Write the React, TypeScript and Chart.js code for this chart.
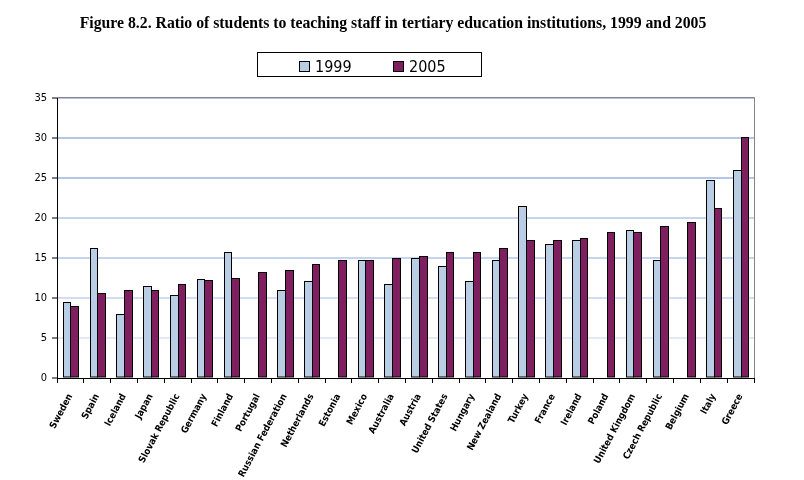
import React, { useEffect, useRef } from 'react';
import { Chart, registerables } from 'chart.js';

Chart.register(...registerables);

const TITLE =
  'Figure 8.2. Ratio of students to teaching staff in tertiary education institutions, 1999 and 2005';

const countries = [
  'Sweden', 'Spain', 'Iceland', 'Japan', 'Slovak Republic', 'Germany', 'Finland', 'Portugal',
  'Russian Federation', 'Netherlands', 'Estonia', 'Mexico', 'Australia', 'Austria', 'United States',
  'Hungary', 'New Zealand', 'Turkey', 'France', 'Ireland', 'Poland', 'United Kingdom',
  'Czech Republic', 'Belgium', 'Italy', 'Greece',
];

const values1999 = [
  9.5, 16.3, 8.0, 11.5, 10.4, 12.4, 15.7, null, 11.0, 12.1, null, 14.7, 11.7, 15.0, 14.0,
  12.1, 14.7, 21.5, 16.8, 17.2, null, 18.5, 14.8, null, 24.7, 26.0,
];

const values2005 = [
  9.0, 10.6, 11.0, 11.0, 11.7, 12.2, 12.5, 13.2, 13.5, 14.3, 14.8, 14.8, 15.0, 15.2, 15.7,
  15.8, 16.3, 17.2, 17.3, 17.5, 18.2, 18.2, 19.0, 19.5, 21.3, 30.1,
];

const seriesLabels = ['1999', '2005'];
const seriesColors = ['#b9cde5', '#7f1f5f'];

const Y_MIN = 0;
const Y_MAX = 35;
const Y_STEP = 5;

const SANS = '"DejaVu Sans Condensed", "DejaVu Sans", sans-serif';

const gridColorFor = (v: number) => {
  if (v === 0) return 'rgba(0,0,0,0)';
  if (v >= 25) return '#b3c6e7';
  if (v >= 15) return '#c6d5ee';
  if (v >= 10) return '#d2ddf1';
  return '#e1e9f6';
};

const decor = {
  id: 'decor',
  beforeDraw(chart: any) {
    const { ctx, width, height } = chart;
    ctx.save();
    ctx.fillStyle = '#ffffff';
    ctx.fillRect(0, 0, width, height);
    ctx.restore();
  },
  // draw bars ourselves (pixel-snapped) from the library's computed elements
  beforeDatasetDraw() {
    return false;
  },
  afterDatasetsDraw(chart: any) {
    const { ctx } = chart;
    ctx.save();
    ctx.lineWidth = 1;
    ctx.strokeStyle = '#000';
    chart.data.datasets.forEach((d: any, i: number) => {
      const meta = chart.getDatasetMeta(i);
      meta.data.forEach((bar: any, j: number) => {
        if (d.data[j] == null) return;
        const { x, y, base, width } = bar.getProps(['x', 'y', 'base', 'width'], true);
        if (y == null || isNaN(y)) return;
        const l = Math.round(x - width / 2);
        const r = Math.round(x + width / 2);
        const t = Math.round(y);
        const b = Math.round(base);
        ctx.fillStyle = d.backgroundColor;
        ctx.fillRect(l, t, r - l + 1, b - t);
        ctx.strokeRect(l + 0.5, t + 0.5, r - l, b - t - 0.5);
      });
    });
    ctx.restore();
  },
  afterDraw(chart: any) {
    const { ctx, chartArea: a } = chart;
    ctx.save();
    // plot frame (top and right)
    ctx.strokeStyle = '#868686';
    ctx.lineWidth = 1;
    ctx.beginPath();
    ctx.moveTo(a.left, Math.round(a.top) - 0.5);
    ctx.lineTo(Math.round(a.right) + 0.5, Math.round(a.top) - 0.5);
    ctx.lineTo(Math.round(a.right) + 0.5, a.bottom);
    ctx.stroke();

    // title
    ctx.fillStyle = '#000';
    ctx.font = 'bold 15.75px "Liberation Serif", "Times New Roman", serif';
    ctx.textAlign = 'center';
    ctx.textBaseline = 'alphabetic';
    ctx.fillText(TITLE, 393, 28);

    // legend
    ctx.strokeStyle = '#000';
    ctx.strokeRect(257.5, 52.5, 224, 24);
    const ds = chart.data.datasets;
    const xs = [299, 393];
    ctx.font = '16px ' + SANS;
    ctx.textAlign = 'left';
    ds.forEach((d: any, i: number) => {
      ctx.fillStyle = d.backgroundColor;
      ctx.fillRect(xs[i] + 0.5, 61.5, 10, 10);
      ctx.strokeStyle = '#000';
      ctx.strokeRect(xs[i] + 0.5, 61.5, 10, 10);
      ctx.fillStyle = '#000';
      ctx.fillText(d.label, xs[i] + 16, 72);
    });
    ctx.restore();
  },
};

export default function App() {
  const ref = useRef<HTMLCanvasElement>(null);

  useEffect(() => {
    if (!ref.current) return;
    const chart = new Chart(ref.current, {
      type: 'bar',
      data: {
        labels: countries,
        datasets: [
          {
            label: seriesLabels[0],
            data: values1999,
            backgroundColor: seriesColors[0],
            borderColor: '#000',
            borderWidth: 0,
          },
          {
            label: seriesLabels[1],
            data: values2005,
            backgroundColor: seriesColors[1],
            borderColor: '#000',
            borderWidth: 0,
          },
        ],
      },
      options: {
        responsive: false,
        animation: false,
        layout: { padding: { left: 0, top: 98, right: 50, bottom: 0 } },
        datasets: { bar: { categoryPercentage: 0.57, barPercentage: 1.0 } },
        plugins: {
          legend: { display: false },
          title: { display: false },
          tooltip: { enabled: false },
        },
        scales: {
          x: {
            offset: true,
            border: { display: true, color: '#000', width: 1 },
            grid: {
              display: true,
              offset: true,
              drawOnChartArea: false,
              drawTicks: true,
              tickLength: 5,
              color: '#000',
            },
            ticks: {
              autoSkip: false,
              maxRotation: 62,
              minRotation: 62,
              padding: 9,
              color: '#000',
              font: { family: SANS, size: 9.5, weight: 'bold' },
            },
            afterFit: (scale: any) => {
              scale.height = 102;
            },
          },
          y: {
            min: Y_MIN,
            max: Y_MAX,
            border: { display: true, color: '#000', width: 1 },
            grid: {
              color: (c: any) => gridColorFor(c.tick ? c.tick.value : 0),
              lineWidth: 2,
              tickColor: '#000',
              tickWidth: 1,
              tickLength: 5,
            },
            ticks: {
              stepSize: Y_STEP,
              padding: 5,
              color: '#000',
              font: { family: SANS, size: 11 },
            },
            afterFit: (scale: any) => {
              scale.width = 57;
            },
          },
        },
      },
      plugins: [decor],
    } as any);
    return () => chart.destroy();
  }, []);

  return (
    <div style={{ position: 'absolute', left: 0, top: 0, width: 804, height: 480, background: '#fff' }}>
      <canvas ref={ref} width={804} height={480} style={{ display: 'block' }} />
    </div>
  );
}
